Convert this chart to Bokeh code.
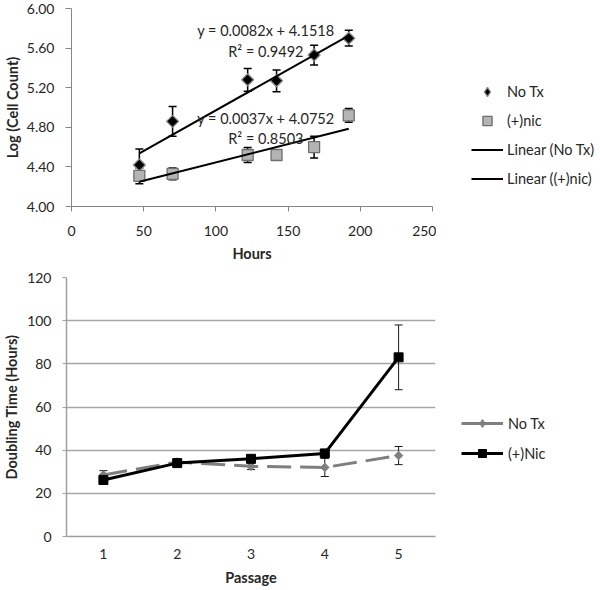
import numpy as np
from bokeh.plotting import figure
from bokeh.models import (Range1d, FixedTicker, NumeralTickFormatter, Whisker, TeeHead,
                          ColumnDataSource, Legend, LegendItem, Label)
from bokeh.layouts import column, row
from bokeh.embed import file_html
from bokeh.resources import INLINE

# ---------------- data: top chart (log cell count vs hours) ----------------
hours = [47, 70, 122, 142, 168, 192]
notx_log = [4.42, 4.86, 5.28, 5.27, 5.53, 5.70]
notx_log_err = [0.16, 0.15, 0.115, 0.11, 0.10, 0.08]
nic_log = [4.31, 4.33, 4.52, 4.52, 4.60, 4.92]
nic_log_err = [0.08, 0.06, 0.075, 0.03, 0.11, 0.07]
fit_slope = [0.0082, 0.0037]
fit_intercept = [4.1518, 4.0752]
fit_r2 = [0.9492, 0.8503]
top_x_ticks = [0, 50, 100, 150, 200, 250]
top_y_ticks = [4.0, 4.4, 4.8, 5.2, 5.6, 6.0]
top_legend = ["No Tx", "(+)nic", "Linear (No Tx)", "Linear ((+)nic)"]

# ---------------- data: bottom chart (doubling time vs passage) ----------------
passage = [1, 2, 3, 4, 5]
notx_dt = [28.5, 34.5, 32.5, 32.0, 37.5]
notx_dt_err = [2.0, 1.5, 1.5, 4.2, 4.2]
nic_dt = [26.2, 34.0, 36.0, 38.5, 83.0]
nic_dt_err = [2.0, 1.5, 1.5, 1.0, 15.0]
bottom_y_ticks = [0, 20, 40, 60, 80, 100, 120]
bottom_legend = ["No Tx", "(+)Nic"]

FONT = "Lato"
TXT = "#262626"
AX = "#868686"

DIA = dict(fill_color="black", line_color="#8a8a8a", line_width=1.3)
SQ = dict(fill_color="#b4b4b4", line_color="#6e6e6e", line_width=1.3)
FIT = dict(line_color="black", line_width=2)
G_LINE = dict(line_color="#7f7f7f", line_width=3)
G_MARK = dict(fill_color="#7f7f7f", line_color="#7f7f7f")
K_LINE = dict(line_color="black", line_width=3)
K_MARK = dict(fill_color="black", line_color="black")


def with_err(x, y, e):
    y = np.array(y); e = np.array(e)
    return ColumnDataSource(dict(x=x, y=list(y), upper=list(y + e), lower=list(y - e)))


def legend_fig(width, height):
    # a figure that only carries a legend; its series copies fall outside its (0..1) ranges
    f = figure(width=width, height=height, x_range=Range1d(0, 1), y_range=Range1d(0, 1),
               output_backend="svg", toolbar_location=None, x_axis_location=None,
               y_axis_location=None, min_border=0)
    f.outline_line_color = None
    f.grid.visible = False
    return f


def style_axis(ax, line_color, line_width):
    ax.axis_line_color = line_color
    ax.axis_line_width = line_width
    ax.major_tick_line_color = line_color
    ax.minor_tick_line_color = None
    ax.major_tick_in = 0
    ax.major_label_text_font = FONT
    ax.major_label_text_font_size = "14px"
    ax.major_label_text_color = TXT
    ax.axis_label_text_font = FONT
    ax.axis_label_text_font_size = "14.5px"
    ax.axis_label_text_font_style = "bold"
    ax.axis_label_text_color = TXT

# ============================ TOP ============================
p1 = figure(width=436, height=267, x_range=Range1d(0, 250), y_range=Range1d(4, 6),
            output_backend="svg", toolbar_location=None,
            min_border_left=67, min_border_right=4, min_border_top=8, min_border_bottom=61)
p1.outline_line_color = None
p1.grid.visible = False

s_notx = with_err(hours, notx_log, notx_log_err)
s_nic = with_err(hours, nic_log, nic_log_err)

for s in (s_notx, s_nic):
    w = Whisker(source=s, base="x", upper="upper", lower="lower", line_color="black", line_width=1.5,
                upper_head=TeeHead(size=8, line_color="black", line_width=1.5),
                lower_head=TeeHead(size=8, line_color="black", line_width=1.5), level="underlay")
    p1.add_layout(w)

p1.scatter("x", "y", source=s_notx, marker="square", angle=np.pi / 4, size=8.5, **DIA)
p1.scatter("x", "y", source=s_nic, marker="square", size=11, **SQ)

fit_x = [hours[0], hours[-1]]
for m, b in zip(fit_slope, fit_intercept):
    p1.line(fit_x, [m * v + b for v in fit_x], **FIT)

label_pos = [(134.6, 5.776, 5.561), (134.6, 4.884, 4.683)]
for (lx, ly1, ly2), m, b, r2 in zip(label_pos, fit_slope, fit_intercept, fit_r2):
    for txt, ly in ((f"y = {m:.4f}x + {b:.4f}", ly1), (f"R\u00b2 = {r2:.4f}", ly2)):
        p1.add_layout(Label(x=lx, y=ly, text=txt, text_align="center", text_baseline="middle",
                            text_font=FONT, text_font_size="14.5px", text_color=TXT))

style_axis(p1.xaxis[0], AX, 1)
style_axis(p1.yaxis[0], AX, 1)
p1.xaxis.ticker = FixedTicker(ticks=top_x_ticks)
p1.xaxis.major_tick_out = 5
p1.xaxis.major_label_standoff = 14
p1.xaxis.axis_label = "Hours"
p1.xaxis.axis_label_standoff = 6
p1.yaxis.ticker = FixedTicker(ticks=top_y_ticks)
p1.yaxis.formatter = NumeralTickFormatter(format="0.00")
p1.yaxis.major_tick_out = 6
p1.yaxis.major_label_standoff = 11
p1.yaxis.axis_label = "Log (Cell Count)"
p1.yaxis.axis_label_standoff = 3

lf1 = legend_fig(164, 267)
k1 = lf1.scatter(hours, notx_log, marker="diamond", size=10, **DIA)
k2 = lf1.scatter(hours, nic_log, marker="square", size=10, **SQ)
k3 = lf1.line(hours, notx_log, **FIT)
k4 = lf1.line(hours, nic_log, **FIT)
lf1.add_layout(Legend(items=[LegendItem(label=t, renderers=[r]) for t, r in zip(top_legend, [k1, k2, k3, k4])],
                      location=(35, 16), padding=0, margin=0, spacing=6,
                      glyph_width=32, glyph_height=23, label_height=20, label_standoff=4,
                      border_line_color=None, background_fill_alpha=0,
                      label_text_font=FONT, label_text_font_size="14.5px", label_text_color=TXT))

# ============================ BOTTOM ============================
p2 = figure(width=439, height=323, x_range=Range1d(0.5, 5.5), y_range=Range1d(0, 120),
            output_backend="svg", toolbar_location=None,
            min_border_left=63, min_border_right=4, min_border_top=10, min_border_bottom=54)
p2.outline_line_color = None
p2.xgrid.visible = False
p2.ygrid.ticker = FixedTicker(ticks=bottom_y_ticks)
p2.ygrid.grid_line_color = "#a6a6a6"
p2.ygrid.grid_line_width = 1.5

b_notx = with_err(passage, notx_dt, notx_dt_err)
b_nic = with_err(passage, nic_dt, nic_dt_err)

p2.line("x", "y", source=b_notx, line_dash="24 9", **G_LINE)
p2.line("x", "y", source=b_nic, **K_LINE)
for s in (b_notx, b_nic):
    w = Whisker(source=s, base="x", upper="upper", lower="lower", line_color="#1a1a1a", line_width=1,
                upper_head=TeeHead(size=8, line_color="#1a1a1a", line_width=1),
                lower_head=TeeHead(size=8, line_color="#1a1a1a", line_width=1))
    p2.add_layout(w)
p2.scatter("x", "y", source=b_notx, marker="square", angle=np.pi / 4, size=6, **G_MARK)
p2.scatter("x", "y", source=b_nic, marker="square", size=9, **K_MARK)

style_axis(p2.xaxis[0], "#a0a0a0", 1.5)
style_axis(p2.yaxis[0], "#a0a0a0", 1.5)
p2.xaxis.ticker = FixedTicker(ticks=passage)
p2.xaxis.major_tick_out = 0
p2.xaxis.major_label_standoff = 12
p2.xaxis.axis_label = "Passage"
p2.xaxis.axis_label_standoff = 7
p2.yaxis.ticker = FixedTicker(ticks=bottom_y_ticks)
p2.yaxis.major_tick_out = 4
p2.yaxis.major_label_standoff = 11
p2.yaxis.axis_label = "Doubling Time (Hours)"
p2.yaxis.axis_label_standoff = 4

lf2 = legend_fig(161, 323)
q1 = lf2.line(passage, notx_dt, **G_LINE)
q2 = lf2.scatter(passage, notx_dt, marker="diamond", size=8, **G_MARK)
q3 = lf2.line(passage, nic_dt, **K_LINE)
q4 = lf2.scatter(passage, nic_dt, marker="square", size=8, **K_MARK)
lf2.add_layout(Legend(items=[LegendItem(label=bottom_legend[0], renderers=[q1, q2]),
                             LegendItem(label=bottom_legend[1], renderers=[q3, q4])],
                      location=(22, 73), padding=0, margin=0, spacing=10,
                      glyph_width=42, glyph_height=20, label_height=20, label_standoff=5,
                      border_line_color=None, background_fill_alpha=0,
                      label_text_font=FONT, label_text_font_size="14.5px", label_text_color=TXT))

layout = column(row(p1, lf1), row(p2, lf2))
open("out.html", "w").write(file_html(layout, INLINE))
